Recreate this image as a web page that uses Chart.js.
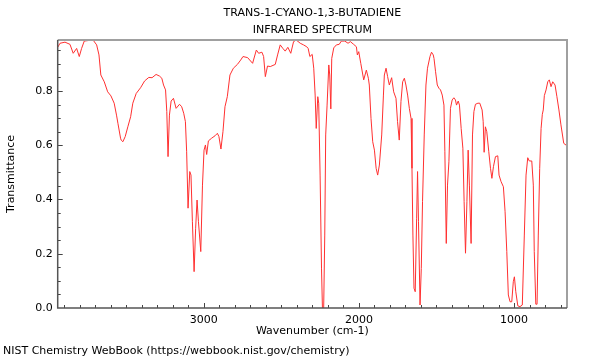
<!DOCTYPE html>
<html>
<head>
<meta charset="utf-8">
<title>IR spectrum</title>
<script src="https://cdn.jsdelivr.net/npm/chart.js"></script>
<style>
  body { margin: 0; background: #fff; }
  #wrap { width: 600px; height: 360px; }
</style>
</head>
<body>
<div id="wrap"><canvas id="chart" width="600" height="360"></canvas></div>
<script>
// wavenumber (cm-1)
const wavenumbers = [
  3940, 3926, 3894, 3862, 3841, 3819, 3802, 3787, 3770, 3744, 3712, 3690, 3675, 3663, 3641, 3619,
  3598, 3577, 3562, 3553, 3536, 3532, 3521, 3506, 3489, 3471, 3457, 3435, 3407, 3381, 3354, 3333,
  3307, 3285, 3270, 3259, 3246, 3238, 3230, 3221, 3210, 3195, 3178, 3156, 3142, 3129, 3118, 3110,
  3101, 3090, 3082, 3073, 3062, 3052, 3043, 3034, 3019, 3008, 2998, 2989, 2981, 2970, 2949, 2927,
  2912, 2902, 2889, 2876, 2863, 2848, 2831, 2809, 2783, 2762, 2747, 2717, 2685, 2661, 2646, 2625,
  2614, 2603, 2589, 2571, 2539, 2524, 2507, 2490, 2475, 2458, 2439, 2421, 2404, 2378, 2357, 2336,
  2327, 2316, 2301, 2291, 2282, 2275, 2265, 2259, 2250, 2241, 2235, 2227, 2220, 2214, 2205, 2194,
  2188, 2181, 2175, 2162, 2145, 2127, 2113, 2091, 2070, 2055, 2034, 2016, 2010, 2001, 1988, 1969,
  1952, 1939, 1933, 1922, 1911, 1900, 1889, 1879, 1868, 1853, 1842, 1836, 1825, 1815, 1804, 1789,
  1776, 1761, 1751, 1740, 1729, 1718, 1707, 1697, 1686, 1675, 1664, 1658, 1652, 1645, 1637, 1628,
  1622, 1616, 1606, 1598, 1590, 1579, 1568, 1558, 1542, 1532, 1521, 1516, 1506, 1495, 1484, 1474,
  1463, 1452, 1446, 1437, 1429, 1420, 1410, 1399, 1388, 1378, 1371, 1360, 1352, 1341, 1330, 1322,
  1313, 1304, 1296, 1288, 1277, 1268, 1259, 1249, 1233, 1221, 1206, 1199, 1193, 1185, 1176, 1163,
  1152, 1143, 1133, 1120, 1105, 1097, 1084, 1069, 1058, 1047, 1037, 1026, 1015, 1005, 998, 989,
  976, 962, 947, 934, 923, 912, 902, 886, 876, 870, 860, 852, 844, 835, 826, 818,
  812, 805, 794, 783, 773, 762, 751, 736, 724, 711, 698, 680, 664
];

const transmittance = [
  0.962, 0.976, 0.980, 0.972, 0.939, 0.957, 0.927, 0.957, 0.984, 0.986, 0.987, 0.970, 0.933, 0.859, 0.834, 0.797,
  0.782, 0.755, 0.711, 0.681, 0.626, 0.619, 0.613, 0.632, 0.668, 0.705, 0.755, 0.791, 0.812, 0.837, 0.850, 0.849,
  0.861, 0.855, 0.847, 0.822, 0.804, 0.724, 0.558, 0.711, 0.763, 0.773, 0.736, 0.751, 0.742, 0.718, 0.687, 0.576,
  0.368, 0.503, 0.490, 0.318, 0.134, 0.294, 0.398, 0.318, 0.208, 0.453, 0.582, 0.601, 0.566, 0.616, 0.626, 0.635,
  0.644, 0.632, 0.586, 0.650, 0.742, 0.779, 0.859, 0.884, 0.898, 0.914, 0.927, 0.923, 0.902, 0.951, 0.939, 0.943,
  0.927, 0.853, 0.892, 0.890, 0.898, 0.933, 0.970, 0.957, 0.947, 0.961, 0.939, 0.982, 0.988, 0.976, 0.970, 0.963,
  0.957, 0.927, 0.935, 0.884, 0.785, 0.662, 0.779, 0.755, 0.490, 0.147, 0.000, 0.000, 0.269, 0.638, 0.748, 0.896,
  0.859, 0.734, 0.920, 0.959, 0.970, 0.972, 0.984, 0.984, 0.976, 0.982, 0.972, 0.963, 0.933, 0.945, 0.902, 0.841,
  0.877, 0.847, 0.822, 0.699, 0.613, 0.582, 0.515, 0.490, 0.527, 0.638, 0.785, 0.859, 0.884, 0.853, 0.822, 0.849,
  0.797, 0.773, 0.687, 0.619, 0.761, 0.834, 0.847, 0.822, 0.785, 0.736, 0.699, 0.515, 0.269, 0.073, 0.060, 0.331,
  0.503, 0.318, 0.011, 0.146, 0.392, 0.638, 0.822, 0.884, 0.927, 0.943, 0.933, 0.920, 0.871, 0.822, 0.810, 0.804,
  0.785, 0.748, 0.576, 0.238, 0.453, 0.539, 0.736, 0.767, 0.775, 0.767, 0.748, 0.763, 0.748, 0.662, 0.589, 0.392,
  0.202, 0.392, 0.582, 0.453, 0.238, 0.638, 0.724, 0.751, 0.755, 0.755, 0.730, 0.687, 0.574, 0.668, 0.650, 0.576,
  0.515, 0.478, 0.521, 0.558, 0.561, 0.490, 0.466, 0.447, 0.355, 0.208, 0.048, 0.023, 0.023, 0.097, 0.115, 0.060,
  0.008, 0.005, 0.011, 0.269, 0.490, 0.554, 0.542, 0.542, 0.453, 0.208, 0.014, 0.014, 0.269, 0.515, 0.662, 0.714,
  0.730, 0.783, 0.804, 0.834, 0.841, 0.816, 0.834, 0.822, 0.779, 0.730, 0.675, 0.607, 0.600
];

const xTickValues = [3000, 2000, 1000];
const yTickValues = [0, 0.2, 0.4, 0.6, 0.8];

Chart.defaults.font.family = 'DejaVu Sans';
Chart.defaults.font.size = 11;
Chart.defaults.color = '#000';

// inward tick marks and the box round the plot
const frameTicks = {
    id: 'frameTicks',
    afterDatasetsDraw(chart) {
        const {ctx, chartArea: a, scales: {x, y}} = chart;
        ctx.save();
        ctx.strokeStyle = '#444';
        ctx.lineWidth = 1;
        ctx.beginPath();
        for (let v = 700; v <= 3900; v += 100) {
            const px = Math.round(x.getPixelForValue(v)) + 0.5;
            const len = v % 1000 === 0 ? 5 : 3;
            ctx.moveTo(px, a.bottom);
            ctx.lineTo(px, a.bottom - len);
        }
        for (let i = 1; i < 20; i++) {
            const v = i * 0.05;
            if (v > y.max) break;
            const py = Math.round(y.getPixelForValue(v)) + 0.5;
            const len = i % 4 === 0 ? 5 : 3;
            ctx.moveTo(a.left, py);
            ctx.lineTo(a.left + len, py);
        }
        ctx.stroke();

        ctx.strokeStyle = '#a0a0a0';
        ctx.lineWidth = 2;
        ctx.beginPath();
        ctx.moveTo(a.left, a.top);
        ctx.lineTo(a.right, a.top);
        ctx.lineTo(a.right, a.bottom);
        ctx.stroke();

        ctx.strokeStyle = '#555';
        ctx.lineWidth = 1.5;
        ctx.beginPath();
        ctx.moveTo(a.left, a.top);
        ctx.lineTo(a.left, a.bottom);
        ctx.lineTo(a.right, a.bottom);
        ctx.stroke();
        ctx.restore();
    }
};

let points = wavenumbers.map((w, i) => ({x: w, y: transmittance[i]}));

let data = {
    datasets: [{
        data: points,
        borderColor: '#ff3030',
        borderWidth: 1,
        pointRadius: 0,
        tension: 0,
        fill: false
    }]
};

let options = {
    responsive: false,
    animation: false,
    layout: {
        padding: {left: 3, right: 33, top: 0, bottom: 0}
    },
    plugins: {
        legend: { display: false },
        tooltip: { enabled: false },
        title: {
            display: true,
            text: ['TRANS-1-CYANO-1,3-BUTADIENE', 'INFRARED SPECTRUM'],
            fullSize: false,
            font: { size: 11, weight: 'normal', lineHeight: 1.5 },
            color: '#000',
            padding: { top: 5, bottom: 2 }
        },
        subtitle: {
            display: true,
            text: 'NIST Chemistry WebBook (https://webbook.nist.gov/chemistry)',
            position: 'bottom',
            align: 'start',
            fullSize: true,
            font: { size: 11, weight: 'normal' },
            color: '#000',
            padding: { top: 0, bottom: 2 }
        }
    },
    scales: {
        x: {
            type: 'linear',
            reverse: true,
            min: 659,
            max: 3941,
            afterBuildTicks: s => { s.ticks = xTickValues.map(v => ({value: v})); },
            afterFit: s => { s.height = 36.8; },
            grid: { display: false, drawTicks: false },
            border: { display: false },
            ticks: {
                padding: 6,
                autoSkip: false,
                maxRotation: 0,
                callback: v => String(v)
            },
            title: {
                display: true,
                text: 'Wavenumber (cm-1)',
                padding: { top: 0, bottom: 7 }
            }
        },
        y: {
            min: 0,
            max: 0.988,
            afterBuildTicks: s => { s.ticks = yTickValues.map(v => ({value: v})); },
            afterFit: s => { s.width = 54.7; },
            grid: { display: false, drawTicks: false },
            border: { display: false },
            ticks: {
                padding: 5,
                callback: v => Number(v).toFixed(1)
            },
            title: {
                display: true,
                text: 'Transmittance',
                padding: { top: 1.4, bottom: 0 }
            }
        }
    }
};

let ctx = document.getElementById('chart').getContext('2d');
const chart = new Chart(ctx, {
    type: 'line',
    data: data,
    options: options,
    plugins: [frameTicks]
});
</script>
</body>
</html>
